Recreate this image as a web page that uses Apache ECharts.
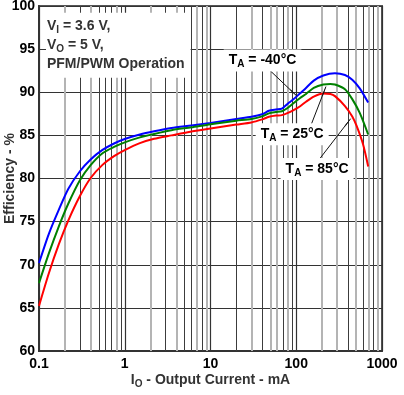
<!DOCTYPE html>
<html><head><meta charset="utf-8">
<script src="https://cdn.jsdelivr.net/npm/echarts@6/dist/echarts.min.js"></script>
<style>html,body{margin:0;padding:0;background:#fff}#c{width:404px;height:395px}</style>
</head><body><div id="c"></div>
<script>
// ---- data ----
const iBlue   = [0.1,0.13,0.17,0.22,0.3,0.4,0.55,0.75,1,1.5,2.2,3.5,6,10,20,30,40,48,58,68,80,92,110,130,160,207,283,370,450,550,690];
const effBlue = [70.2,73.56,76.36,78.81,80.84,82.21,83.31,84.06,84.58,85.1,85.47,85.85,86.15,86.45,86.9,87.15,87.45,87.85,88.0,88.1,88.7,89.15,89.85,90.5,91.35,91.95,92.2,92.0,91.45,90.45,88.8];

const iGreen   = [0.1,0.13,0.17,0.22,0.3,0.4,0.55,0.75,1,1.5,2.2,3.5,6,10,20,30,40,48,58,68,80,92,110,130,160,207,250,283,370,450,550,690];
const effGreen = [67.87,71.29,74.43,77.1,79.8,81.55,82.93,83.66,84.19,84.77,85.17,85.6,85.94,86.3,86.7,86.9,87.2,87.55,87.7,87.8,88.2,88.7,89.3,89.8,90.5,90.9,90.95,90.9,90.35,89.2,87.6,85.1];

const iRed   = [0.1,0.13,0.17,0.22,0.3,0.4,0.55,0.75,1,1.5,2.2,3.5,6,10,20,30,40,48,58,68,80,92,110,130,160,207,250,283,370,450,506,600,690];
const effRed = [65.23,68.99,72.36,75.15,77.97,80.06,81.58,82.6,83.3,84.1,84.6,85.0,85.45,85.8,86.25,86.5,86.85,87.15,87.3,87.35,87.6,87.9,88.35,88.9,89.5,89.85,89.8,89.55,88.4,87.2,86.1,84.0,81.4];

const seriesNames = ['TA = -40°C','TA = 25°C','TA = 85°C'];
const xTickValues = [0.1,1,10,100,1000];
const yTickValues = [60,65,70,75,80,85,90,95,100];

// minor log grid lines and their shade (g = light, d = dark) as seen in the reference
const minorGridValues = [0.2,0.3,0.4,0.5,0.6,0.7,0.8,0.9, 2,3,4,5,6,7,8,9, 20,30,40,50,60,70,80,90, 200,300,400,500,600,700,800,900];
const minorGridShade  = ['g','d','g','d','d','d','g','d', 'g','d','g','d','d','g','d','g', 'd','g','d','g','g','d','g','d', 'g','g','d','g','d','g','d','g'];

// annotations (data coordinates)
const annoTemps   = ['-40°C','25°C','85°C'];
const annoAnchor  = [[14.06,93.69],[33.2,85.12],[64.8,81.1]];
const arrowFrom   = [[45.4,92.87],[144.8,85.9],[173,81.83]];
const arrowTo     = [[101.4,89.57],[222,90.66],[431,86.94]];
const condAnchor  = [0.119,95.45];

// ---- chart ----
const FONT = '"Liberation Sans", Arial, sans-serif';
const zip = (a,b) => a.map((v,i)=>[v,b[i]]);
const chart = echarts.init(document.getElementById('c'), null, {renderer:'canvas'});

const subRich = {
  t:{fontSize:14,fontWeight:'bold',color:'#000',lineHeight:18,fontFamily:FONT},
  s:{fontSize:10,fontWeight:'bold',color:'#000',lineHeight:11,verticalAlign:'bottom',fontFamily:FONT}
};

const curveColors = ['#0000ff','#008000','#ff0000'];
const curves = [zip(iBlue,effBlue), zip(iGreen,effGreen), zip(iRed,effRed)].map((d,k)=>({
  name: seriesNames[k], type:'line', data:d, smooth:0.25, showSymbol:false, z:3,
  lineStyle:{color:curveColors[k], width:2}, itemStyle:{color:curveColors[k]},
  silent:true, animation:false
}));

const option = {
  animation:false,
  textStyle:{fontFamily:FONT},
  grid:{left:39, right:22, top:6, bottom:44, containLabel:false, outerBoundsMode:'none',
        show:true, borderColor:'#555', borderWidth:2, backgroundColor:'transparent'},
  xAxis:{
    type:'log', logBase:10, min:0.1, max:1000,
    name:'{i|I}{o|O}{i| - Output Current - mA}', nameLocation:'middle', nameGap:20, nameMoveOverlap:false,
    nameTextStyle:{rich:{
      i:{fontSize:14,fontWeight:'bold',color:'#333',lineHeight:18,fontFamily:FONT},
      o:{fontSize:10,fontWeight:'bold',color:'#333',lineHeight:11,verticalAlign:'bottom',fontFamily:FONT}
    }},
    axisLine:{show:true, lineStyle:{color:'#333', width:2}},
    axisTick:{show:false},
    axisLabel:{color:'#000', fontWeight:'bold', fontSize:14, margin:6, fontFamily:FONT,
      showMinLabel:true, showMaxLabel:true, hideOverlap:false,
      formatter:v=>String(+Number(v).toPrecision(3))},
    splitLine:{show:true, lineStyle:{color:'#333', width:1.2}}
  },
  yAxis:{
    type:'value', min:60, max:100, interval:5,
    name:'Efficiency - %', nameLocation:'middle', nameGap:22, nameMoveOverlap:false,
    nameTextStyle:{fontSize:14, fontWeight:'bold', color:'#333', fontFamily:FONT},
    axisLine:{show:true, lineStyle:{color:'#333', width:2}},
    axisTick:{show:false},
    axisLabel:{color:'#000', fontWeight:'bold', fontSize:14, margin:4, fontFamily:FONT},
    splitLine:{show:true, lineStyle:{color:'#333', width:1.2}}
  },
  series:[
    {
      name:'minorGrid', type:'line', data:[[0.1,60]], showSymbol:false, z:1, silent:true,
      lineStyle:{opacity:0},
      markLine:{
        silent:true, symbol:['none','none'], animation:false, z:1,
        label:{show:false}, emphasis:{disabled:true},
        lineStyle:{type:'solid'},
        data: minorGridValues.map((v,i)=>({
          xAxis:v,
          lineStyle: minorGridShade[i]==='g'
            ? {color:'#b4b4b4', width:2, type:'solid'}
            : {color:'#3c3c3c', width:1, type:'solid'}
        }))
      }
    },
    ...curves,
    {
      name:'annotations', type:'line', data:[[0.1,60]], showSymbol:false, z:10, silent:true,
      lineStyle:{opacity:0},
      markLine:{
        silent:true, animation:false, symbol:['none','arrow'], symbolSize:[1,10],
        label:{show:false}, emphasis:{disabled:true},
        lineStyle:{type:'solid', color:'#111', width:1},
        data: arrowFrom.map((f,i)=>[{coord:f},{coord:arrowTo[i]}])
      },
      markPoint:{
        silent:true, animation:false, z:12,
        data:[
          ...annoTemps.map((t,i)=>({
            coord:annoAnchor[i], symbol:'rect', symbolSize:1,
            itemStyle:{color:'rgba(0,0,0,0)'},
            label:{show:true, position:'right', distance:0,
              formatter:'{t|T}{s|A}{t| = '+t+'}',
              backgroundColor:'#fff', padding:[2,5,2,5], rich:subRich}
          })),
          {
            coord:condAnchor, symbol:'rect', symbolSize:1,
            itemStyle:{color:'rgba(0,0,0,0)'},
            label:{show:true, position:'right', distance:0,
              formatter:'{v|V}{s|I}{v| = 3.6 V,}\n{v|V}{s|O}{v| = 5 V,}\n{v|PFM/PWM Operation}',
              backgroundColor:'#fff', padding:[4,6,4,1],
              rich:{
                v:{fontSize:14,fontWeight:'bold',color:'#333',lineHeight:19,fontFamily:FONT},
                s:{fontSize:10,fontWeight:'bold',color:'#333',lineHeight:12,verticalAlign:'bottom',fontFamily:FONT}
              }}
          }
        ]
      }
    }
  ]
};
chart.setOption(option);
</script>
</body></html>
